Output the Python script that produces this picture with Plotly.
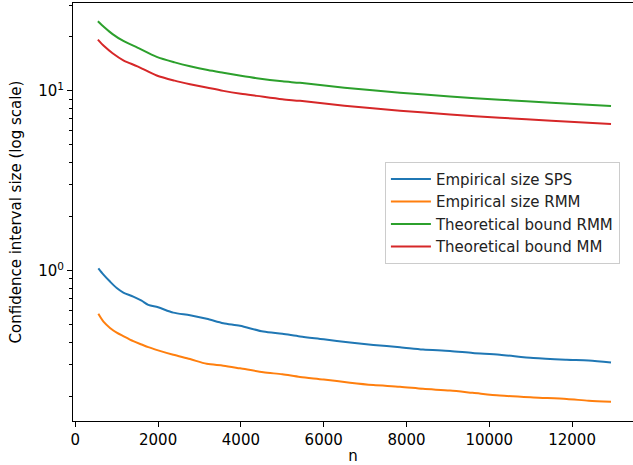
import plotly.graph_objects as go

# ---- data ----
n_theory = [545, 700, 900, 1160, 1500, 1966, 2400, 2771, 3200, 3575, 4000, 4382,
            5000, 5428, 6500, 7842, 9050, 10254, 11500, 12940]
bound_rmm = [24.4, 22.6, 20.7, 18.95, 17.4, 15.45, 14.4, 13.7, 13.05, 12.6, 12.13, 11.76,
             11.3, 11.08, 10.42, 9.77, 9.31, 8.93, 8.59, 8.25]
bound_mm = [19.3, 17.7, 16.2, 14.8, 13.7, 12.18, 11.4, 10.9, 10.4, 10.0, 9.64, 9.38,
            8.98, 8.80, 8.27, 7.76, 7.39, 7.09, 6.82, 6.55]

n_emp = [556, 680, 838, 1000, 1160, 1400, 1600, 1763, 2000, 2367, 2771, 3174, 3575, 3978,
         4541, 5000, 5428, 6000, 6636, 7200, 7842, 8400, 9050, 9600, 10254, 11063, 11870,
         12400, 12940]
emp_sps = [1.03, 0.95, 0.869, 0.80, 0.755, 0.717, 0.68, 0.645, 0.625, 0.584, 0.565, 0.54,
           0.510, 0.493, 0.458, 0.445, 0.430, 0.415, 0.398, 0.386, 0.375, 0.364, 0.357,
           0.348, 0.340, 0.326, 0.319, 0.316, 0.308]
emp_rmm = [0.575, 0.52, 0.48, 0.452, 0.432, 0.405, 0.388, 0.375, 0.36, 0.340, 0.322, 0.303,
           0.296, 0.286, 0.272, 0.265, 0.256, 0.248, 0.238, 0.231, 0.226, 0.220, 0.215,
           0.209, 0.202, 0.197, 0.193, 0.189, 0.1865]

x_ticks = [0, 2000, 4000, 6000, 8000, 10000, 12000]
x_ticktext = ["0", "2000", "4000", "6000", "8000", "10000", "12000"]
y_ticks = [1, 10]
y_ticktext = ["10<sup>0</sup>", "10<sup>1</sup>"]
y_minor = [0.2, 0.3, 0.4, 0.5, 0.6, 0.7, 0.8, 0.9, 2, 3, 4, 5, 6, 7, 8, 9, 20, 30]

FONT = "DejaVu Sans"
FS = 15
fig = go.Figure()
series = [
    ("Empirical size SPS", n_emp, emp_sps, "#1f77b4"),
    ("Empirical size RMM", n_emp, emp_rmm, "#ff7f0e"),
    ("Theoretical bound RMM", n_theory, bound_rmm, "#2ca02c"),
    ("Theoretical bound MM", n_theory, bound_mm, "#d62728"),
]
for name, xs, ys, col in series:
    fig.add_trace(go.Scatter(x=xs, y=ys, mode="lines", name=name,
                             line=dict(color=col, width=2, shape="spline", smoothing=0.8)))

fig.update_layout(
    width=633, height=465,
    margin=dict(l=73, r=0, t=3, b=44, autoexpand=False),
    paper_bgcolor="white", plot_bgcolor="white",
    font=dict(family=FONT, size=FS, color="black"),
    showlegend=True,
    legend=dict(x=0.557, y=0.62, xanchor="left", yanchor="top",
                bgcolor="white", bordercolor="#cccccc", borderwidth=1,
                tracegroupgap=0, itemwidth=40,
                font=dict(family=FONT, size=FS, color="#222222")),
    xaxis=dict(range=[-56, 13471], tickvals=x_ticks, ticktext=x_ticktext,
               automargin=False,
               ticks="outside", ticklen=5, tickwidth=1, tickcolor="black",
               showline=True, linecolor="black", linewidth=1, mirror=True,
               showgrid=False, zeroline=False,
               title=dict(text="n", standoff=4, font=dict(size=FS))),
    yaxis=dict(type="log", range=[-0.8367, 1.4889], tickvals=y_ticks, ticktext=y_ticktext,
               automargin=False,
               ticks="outside", ticklen=5, tickwidth=1, tickcolor="black",
               minor=dict(tickvals=y_minor, ticks="outside", ticklen=3, tickwidth=1,
                          tickcolor="black", showgrid=False),
               showline=True, linecolor="black", linewidth=1,
               showgrid=False, zeroline=False,
               title=dict(text="Confidence interval size (log scale)", standoff=12,
                          font=dict(size=FS))),
)

fig.write_html("out.html", config={"displayModeBar": False},
               post_script="document.body.style.margin='0';")
